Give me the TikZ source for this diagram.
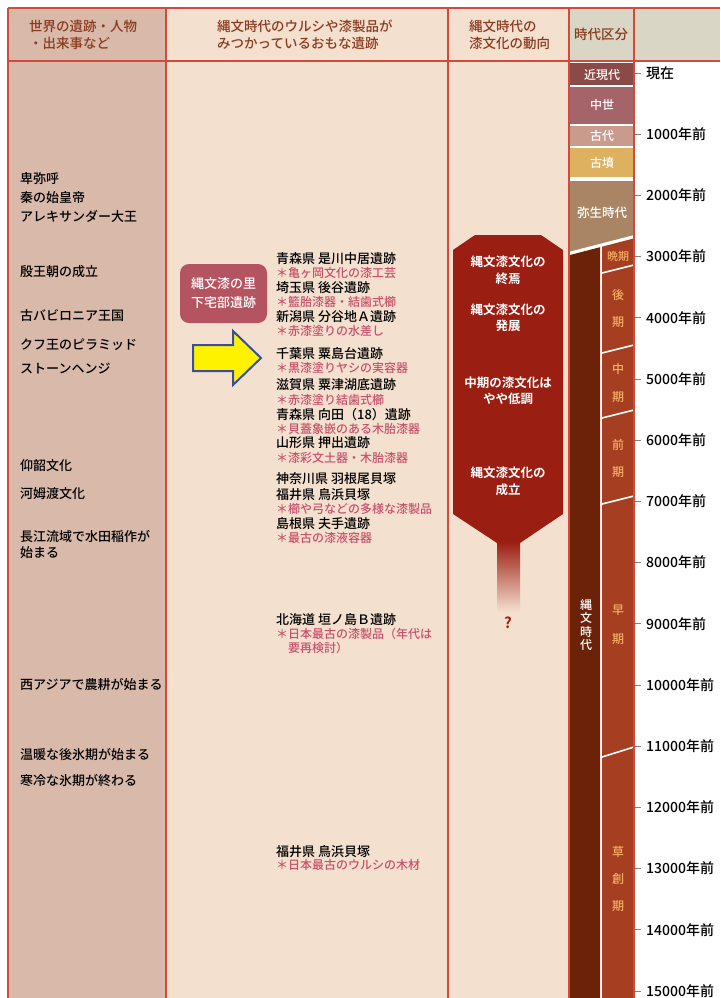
\documentclass[tikz,border=0pt]{standalone}
\usepackage{fontspec}
\setmainfont{Noto Sans CJK JP}[UprightFont={* Medium}, BoldFont={* Bold}]
\usepackage{xcolor}

\definecolor{worldbg}{HTML}{D9BAAA}
\definecolor{sitebg}{HTML}{F4E0CF}
\definecolor{hdrgrey}{HTML}{D9D6C5}
\definecolor{gridred}{HTML}{D24A3C}
\definecolor{hdrtext}{HTML}{8B3A1E}
\definecolor{notepink}{HTML}{C8506A}
\definecolor{urushi}{HTML}{9A1E12}
\definecolor{badge}{HTML}{B55461}
\definecolor{arrowblue}{HTML}{3A4E9E}
\definecolor{kingendai}{HTML}{8C4A47}
\definecolor{chusei}{HTML}{A5636A}
\definecolor{kodai}{HTML}{C99B8D}
\definecolor{kofun}{HTML}{DDB160}
\definecolor{yayoi}{HTML}{A98566}
\definecolor{jomon}{HTML}{6B2209}
\definecolor{jomonsub}{HTML}{A63F22}
\definecolor{subtext}{HTML}{F5AE64}

\begin{document}
\begin{tikzpicture}[
      x=1pt, y=-1pt,
      world/.style  = {anchor=west, inner sep=0pt,
                       font=\fontsize{13}{16}\selectfont},
      site/.style   = {anchor=west, inner sep=0pt,
                       font=\fontsize{13}{15}\selectfont},
      note/.style   = {anchor=west, inner sep=0pt, text=notepink,
                       font=\fontsize{12}{14}\selectfont},
      hdr/.style    = {anchor=west, inner sep=0pt, align=left, text=hdrtext,
                       font=\fontsize{13.5}{17}\selectfont},
      trend/.style  = {inner sep=0pt, align=center, text=white,
                       font=\bfseries\fontsize{12.5}{16.5}\selectfont},
      era/.style    = {inner sep=0pt, text=white,
                       font=\fontsize{12}{14}\selectfont},
      subera/.style = {inner sep=0pt, text=subtext,
                       font=\fontsize{12}{14}\selectfont},
      yearlbl/.style= {anchor=west, inner sep=0pt,
                       font=\fontsize{14}{15}\selectfont},
      grid/.style   = {draw=gridred, line width=1.2pt},
      sep/.style    = {draw=white, line width=1.6pt},
    ]

    \useasboundingbox (0,0) rectangle (720,998);

    % column backgrounds
    \fill[worldbg] (8,8) rectangle (166,998);
    \fill[sitebg]  (166,8) rectangle (569,998);
    \fill[hdrgrey] (569,8) rectangle (720,61);

    % period blocks
    \fill[kingendai] (570,63) rectangle (634,85);
    \fill[chusei]    (570,86.5) rectangle (634,124);
    \fill[kodai]     (570,125.5) rectangle (634,146);
    \fill[kofun]     (570,147.5) rectangle (634,177);
    \fill[yayoi]     (570,181) -- (634,181) -- (634,235) -- (570,251.5) -- cycle;
    \fill[jomon]     (570,255) -- (600,247.2) -- (600,998) -- (570,998) -- cycle;
    \fill[jomonsub]  (602,246.7) -- (634,238.4) -- (634,998) -- (602,998) -- cycle;
    \draw[sep] (602,273) -- (634,265);
    \draw[sep] (602,353) -- (634,345);
    \draw[sep] (602,418) -- (634,410);
    \draw[sep] (602,504) -- (634,496);
    \draw[sep] (602,757) -- (634,747);

    % grid
    \draw[grid] (8,8) -- (720,8);
    \draw[grid] (8,61) -- (720,61);
    \foreach \x in {8,166,448,569,634}
      \draw[grid] (\x,8) -- (\x,998);

    % headings
    \node[hdr] (hworld) at (29,34.5) {世界の遺跡・人物\\・出来事など};
    \node[hdr] (hsite)  at (217,34.5) {縄文時代のウルシや漆製品が\\みつかっているおもな遺跡};
    \node[hdr] (htrend) at (469,34.5) {縄文時代の\\漆文化の動向};
    \node[hdr, anchor=center] (hera) at (601,34) {時代区分};

    % world events
    \node[world] (himiko)   at (20,179) {卑弥呼};
    \node[world] (shin)     at (20,198) {秦の始皇帝};
    \node[world] (alex)     at (20,216) {アレキサンダー大王};
    \node[world] (in)       at (20,272) {殷王朝の成立};
    \node[world] (babylon)  at (20,316) {古バビロニア王国};
    \node[world] (khufu)    at (20,345) {クフ王のピラミッド};
    \node[world] (stone)    at (20,369) {ストーンヘンジ};
    \node[world] (yangshao) at (20,466) {仰韶文化};
    \node[world] (hemudu)   at (20,494) {河姆渡文化};
    \node[world] (choko)    at (20,536) {長江流域で水田稲作が};
    \node[world] (choko2)   at (20,553) {始まる};
    \node[world] (westasia) at (20,685) {西アジアで農耕が始まる};
    \node[world] (kohyoki)  at (20,755) {温暖な後氷期が始まる};
    \node[world] (hyoki)    at (20,781) {寒冷な氷期が終わる};

    % sites
    \node[site] (korekawa)  at (276,259) {青森県 是川中居遺跡};
    \node[note] (korekawaN) at (276,273) {＊亀ヶ岡文化の漆工芸};
    \node[site] (ushiroya)  at (276,288) {埼玉県 後谷遺跡};
    \node[note] (ushiroyaN) at (276,302) {＊籃胎漆器・結歯式櫛};
    \node[site] (buyachi)   at (276,317) {新潟県 分谷地Ａ遺跡};
    \node[note] (buyachiN)  at (276,331) {＊赤漆塗りの水差し};
    \node[site] (awashima)  at (276,354) {千葉県 粟島台遺跡};
    \node[note] (awashimaN) at (276,368) {＊黒漆塗りヤシの実容器};
    \node[site] (awazu)     at (276,385) {滋賀県 粟津湖底遺跡};
    \node[note] (awazuN)    at (276,400) {＊赤漆塗り結歯式櫛};
    \node[site] (mukaida)   at (276,415) {青森県 向田（18）遺跡};
    \node[note] (mukaidaN)  at (276,429) {＊貝蓋象嵌のある木胎漆器};
    \node[site] (oshide)    at (276,443) {山形県 押出遺跡};
    \node[note] (oshideN)   at (276,458) {＊漆彩文土器・木胎漆器};
    \node[site] (haneo)     at (276,479) {神奈川県 羽根尾貝塚};
    \node[site] (torihama)  at (276,495) {福井県 鳥浜貝塚};
    \node[note] (torihamaN) at (276,509) {＊櫛や弓などの多様な漆製品};
    \node[site] (yuute)     at (276,524) {島根県 夫手遺跡};
    \node[note] (yuuteN)    at (276,538) {＊最古の漆液容器};
    \node[site] (kakinoshima)  at (276,620) {北海道 垣ノ島Ｂ遺跡};
    \node[note] (kakinoshimaN) at (276,634) {＊日本最古の漆製品（年代は};
    \node[note] (kakinoshimaM) at (288,648) {要再検討）};
    \node[site] (torihama2)  at (276,852) {福井県 鳥浜貝塚};
    \node[note] (torihama2N) at (276,865) {＊日本最古のウルシの木材};

    % badge and arrow
    \node[fill=badge, rounded corners=9pt, minimum width=87pt, minimum height=59pt,
          align=center, text=white, font=\fontsize{13}{19}\selectfont]
      (shimoyakebe) at (223.5,293.5) {縄文漆の里\\下宅部遺跡};
    \draw[draw=arrowblue, line width=2pt, fill=yellow]
      (193,345) -- (233,345) -- (233,331) -- (261,358) -- (233,385)
      -- (233,371) -- (193,371) -- cycle;

    % urushi culture trend
    \fill[urushi] (453,250) -- (475,235) -- (541,235) -- (563,250) -- (563,514)
      -- (520,543) -- (497,543) -- (453,514) -- cycle;
    \shade[top color=urushi, middle color=urushi!60!sitebg, bottom color=sitebg]
      (497,542) rectangle (520,612);
    \node[trend] (shuen)   at (508,270.5) {縄文漆文化の\\終焉};
    \node[trend] (hatten)  at (508,318)   {縄文漆文化の\\発展};
    \node[trend] (teicho)  at (508,391)   {中期の漆文化は\\やや低調};
    \node[trend] (seiritsu) at (508,481.5) {縄文漆文化の\\成立};
    \node[text=urushi, inner sep=0pt, font=\bfseries\fontsize{15}{15}\selectfont]
      (unknown) at (508,623) {?};

    % period labels
    \node[era] (kingendaiL) at (602,75)  {近現代};
    \node[era] (chuseiL)    at (602,105) {中世};
    \node[era] (kodaiL)     at (602,136) {古代};
    \node[era] (kofunL)     at (602,163) {古墳};
    \node[era, font=\fontsize{12.5}{14}\selectfont] (yayoiL) at (602,213) {弥生時代};
    \node[era, align=center, font=\fontsize{12}{13.3}\selectfont]
      (jomonL) at (586,625) {縄\\文\\時\\代};
    \node[subera, font=\fontsize{11}{12}\selectfont] (banki) at (618,256) {晩期};
    \node[subera, align=center, font=\fontsize{12}{27}\selectfont] (koki)   at (618,308) {後\\期};
    \node[subera, align=center, font=\fontsize{12}{28}\selectfont] (chuki)  at (618,383) {中\\期};
    \node[subera, align=center, font=\fontsize{12}{27}\selectfont] (zenki)  at (618,458) {前\\期};
    \node[subera, align=center, font=\fontsize{12}{29}\selectfont] (soki)   at (618,625) {早\\期};
    \node[subera, align=center, font=\fontsize{12}{27}\selectfont] (sosoki) at (618,879) {草\\創\\期};

    % year scale
    \draw[gray, line width=0.8pt] (635,73) -- (641,73);
    \node[yearlbl] (now) at (646,73) {現在};
    \foreach \k in {1,...,15} {
      \draw[gray, line width=0.8pt] (635,{73+61.2*\k}) -- (641,{73+61.2*\k});
      \node[yearlbl] (yr\k) at (646,{73+61.2*\k}) {\k000年前};
    }

  \end{tikzpicture}
\end{document}
